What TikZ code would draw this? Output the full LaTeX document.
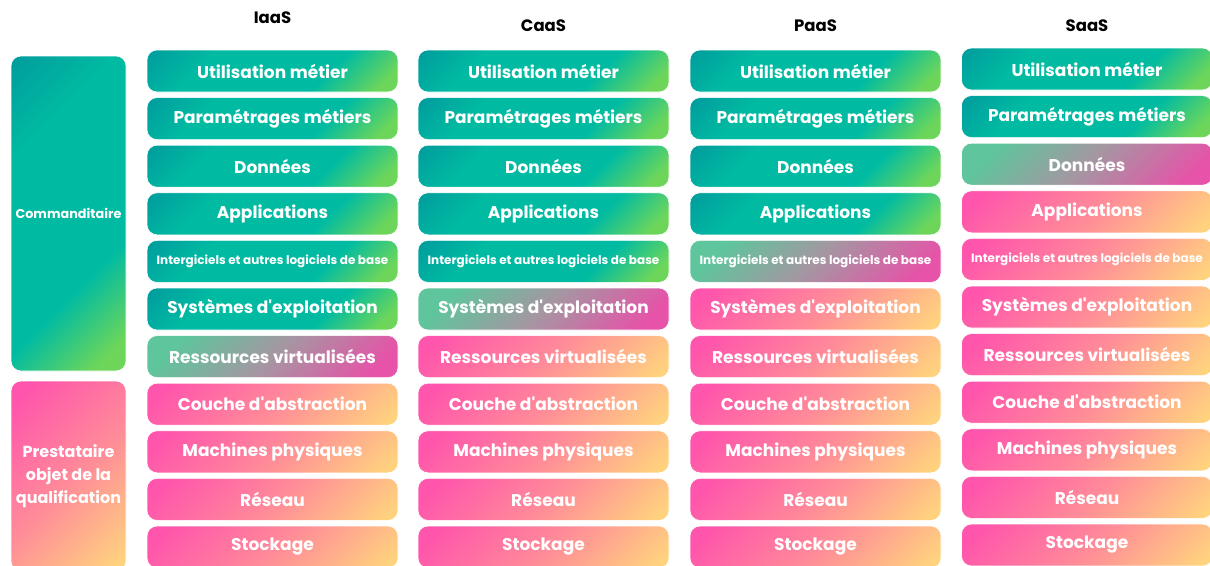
\documentclass[tikz,border=0pt]{standalone}
\usepackage{fontspec}
\setmainfont{Poppins}
\definecolor{tealA}{HTML}{00979C}
\definecolor{tealB}{HTML}{00BBA2}
\definecolor{greenC}{HTML}{6DD65A}
\definecolor{pinkA}{HTML}{FF55AC}
\definecolor{pinkB}{HTML}{FF8C98}
\definecolor{peachC}{HTML}{FFD27E}
\definecolor{mixA}{HTML}{5EC59C}
\definecolor{mixB}{HTML}{A596A2}
\definecolor{mixC}{HTML}{E653A8}
\pgfdeclareverticalshading{tealsh}{100bp}{color(0bp)=(greenC); color(20bp)=(greenC); color(36bp)=(tealB); color(68bp)=(tealB); color(88bp)=(tealA); color(100bp)=(tealA)}
\pgfdeclareverticalshading{pinksh}{100bp}{color(0bp)=(peachC); color(18bp)=(peachC); color(48bp)=(pinkB); color(80bp)=(pinkA); color(100bp)=(pinkA)}
\pgfdeclareverticalshading{mixsh}{100bp}{color(0bp)=(mixC); color(22bp)=(mixC); color(50bp)=(mixB); color(76bp)=(mixA); color(100bp)=(mixA)}
\tikzset{
  box/.style={rounded corners=10pt, minimum width=251pt, minimum height=42pt, inner sep=0pt, text=white, draw=white, line width=0.6pt},
  tealbox/.style={shading=tealsh, shading angle=45},
  pinkbox/.style={shading=pinksh, shading angle=45},
  mixbox/.style={shading=mixsh, shading angle=45},
  bigtext/.style={font=\fontsize{17}{20}\selectfont\bfseries},
  smalltext/.style={font=\fontsize{12}{13}\selectfont\bfseries},
  sidetext/.style={font=\fontsize{12.8}{23}\selectfont\bfseries, align=center},
  sidetextb/.style={font=\fontsize{16}{23}\selectfont\bfseries, align=center},
  hdr/.style={font=\fontsize{16.5}{20}\selectfont\bfseries, text=black},
}
\begin{document}
\begin{tikzpicture}[x=1pt,y=-1pt]
\useasboundingbox (0,0) rectangle (1210,565);
\clip (0,0) rectangle (1210,565);
\fill[white] (0,0) rectangle (1210,565);
% side boxes
\node[box, tealbox, minimum width=115pt, minimum height=315pt, sidetext] (cmd) at (68.5,213.5) {Commanditaire};
\node[box, pinkbox, minimum width=115pt, minimum height=190pt, sidetextb] (prest) at (68.5,476) {Prestataire\\objet de la\\qualification};
% headers
\node[hdr] (hI) at (272.5,18) {IaaS};
\node[hdr] (hC) at (543.5,26) {CaaS};
\node[hdr] (hP) at (815.5,26) {PaaS};
\node[hdr] (hS) at (1087,26) {SaaS};
% stacks
\foreach \col/\xc/\yoff/\mixat in {I/272.5/0/7, C/543.5/0/6, P/815.5/0/5, S/1087/-2/3} {
  \foreach \t [count=\i] in {Utilisation métier, Paramétrages métiers, Données, Applications, Intergiciels et autres logiciels de base, Systèmes d\textquotesingle{}exploitation, Ressources virtualisées, Couche d\textquotesingle{}abstraction, Machines physiques, Réseau, Stockage} {
    \ifnum\i<\mixat \def\st{tealbox}\else\ifnum\i=\mixat \def\st{mixbox}\else\def\st{pinkbox}\fi\fi
    \ifnum\i=5 \def\fst{smalltext}\else\def\fst{bigtext}\fi
    \node[box,\st,\fst] (\col\i) at (\xc, {71+47.6*(\i-1)+\yoff}) {\t};
  }
}
\end{tikzpicture}
\end{document}
